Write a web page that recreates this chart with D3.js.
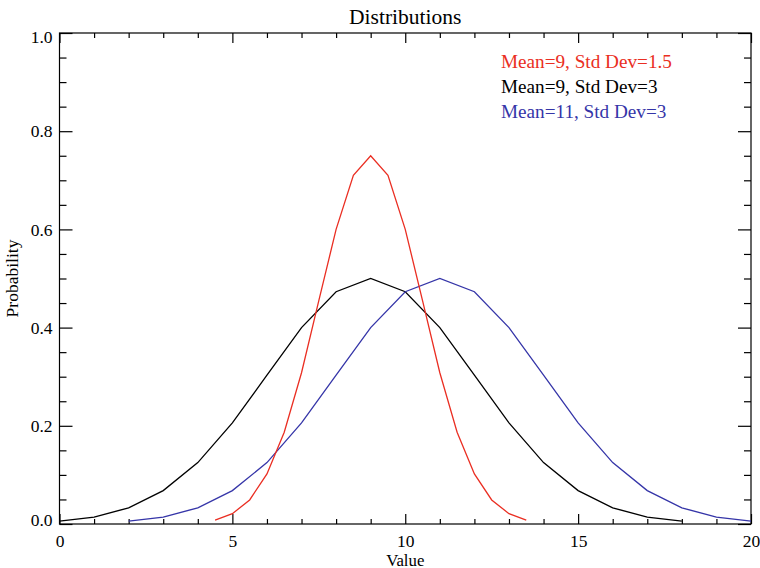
<!DOCTYPE html>
<html>
<head>
<meta charset="utf-8">
<script src="https://cdn.jsdelivr.net/npm/d3@7"></script>
<style>
  body { margin: 0; background: #fff; }
  text { font-family: "Liberation Serif", "Times New Roman", serif; }
</style>
</head>
<body>
<div id="chart"></div>
<script>
// data
const blackX = [0,1,2,3,4,5,6,7,8,9,10,11,12,13,14,15,16,17,18];
const blackY = [0.006,0.014,0.033,0.068,0.125,0.206,0.303,0.400,0.473,0.500,0.473,0.400,0.303,0.206,0.125,0.068,0.033,0.014,0.006];

const blueX = [2,3,4,5,6,7,8,9,10,11,12,13,14,15,16,17,18,19,20];
const blueY = [0.006,0.014,0.033,0.068,0.125,0.206,0.303,0.400,0.473,0.500,0.473,0.400,0.303,0.206,0.125,0.068,0.033,0.014,0.006];

const redX = [4.5,5,5.5,6,6.5,7,7.5,8,8.5,9,9.5,10,10.5,11,11.5,12,12.5,13,13.5];
const redY = [0.008,0.021,0.049,0.102,0.187,0.308,0.455,0.600,0.710,0.750,0.710,0.600,0.455,0.308,0.187,0.102,0.049,0.021,0.008];

const xTicks = [0, 5, 10, 15, 20];
const yTicks = [0.0, 0.2, 0.4, 0.6, 0.8, 1.0];

const legendLabels = ["Mean=9, Std Dev=1.5", "Mean=9, Std Dev=3", "Mean=11, Std Dev=3"];

// setup
const width = 760, height = 568;
const plotLeft = 59.5, plotRight = 751, plotTop = 33, plotBottom = 524;
const red = "#ea2e22", blue = "#3535a8", black = "#000";

const svg = d3.select("#chart").append("svg")
  .attr("width", width)
  .attr("height", height);

const x = d3.scaleLinear().domain([0, 20]).range([plotLeft, plotRight]);
const y = d3.scaleLinear().domain([0, 1]).range([plotBottom, plotTop]);

// axes on all four sides, ticks pointing inward
const minorX = d3.range(0, 21, 1).filter(v => v % 5 !== 0);
const minorY = d3.range(0, 1.001, 0.05).filter(v => Math.round(v * 100) % 20 !== 0);

const bottomAxis = d3.axisBottom(x).tickValues(xTicks).tickSize(-10).tickPadding(10.5)
  .tickFormat(d3.format("d"));
const bottomMinor = d3.axisBottom(x).tickValues(minorX).tickSize(-5).tickFormat("");
const topAxis = d3.axisTop(x).tickValues(xTicks).tickSize(-10).tickFormat("");
const topMinor = d3.axisTop(x).tickValues(minorX).tickSize(-5).tickFormat("");
const leftAxis = d3.axisLeft(y).tickValues(yTicks).tickSize(-13).tickPadding(7)
  .tickFormat(d3.format(".1f"));
const leftMinor = d3.axisLeft(y).tickValues(minorY).tickSize(-7).tickFormat("");
const rightAxis = d3.axisRight(y).tickValues(yTicks).tickSize(-13).tickFormat("");
const rightMinor = d3.axisRight(y).tickValues(minorY).tickSize(-7).tickFormat("");

function styleAxis(g) {
  g.select(".domain").remove();
  g.selectAll(".tick line").attr("stroke", "#000").attr("stroke-width", 1.2);
  g.selectAll(".tick text")
    .style("font-family", "Liberation Serif")
    .style("font-size", "17.5px")
    .attr("fill", "#000");
}

svg.append("g").attr("transform", `translate(0,${plotBottom})`).call(bottomAxis).call(styleAxis);
svg.append("g").attr("transform", `translate(0,${plotBottom})`).call(bottomMinor).call(styleAxis);
svg.append("g").attr("transform", `translate(0,${plotTop})`).call(topAxis).call(styleAxis);
svg.append("g").attr("transform", `translate(0,${plotTop})`).call(topMinor).call(styleAxis);
const yAxisG = svg.append("g").attr("transform", `translate(${plotLeft},0)`).call(leftAxis).call(styleAxis);
svg.append("g").attr("transform", `translate(${plotLeft},0)`).call(leftMinor).call(styleAxis);
svg.append("g").attr("transform", `translate(${plotRight},0)`).call(rightAxis).call(styleAxis);
svg.append("g").attr("transform", `translate(${plotRight},0)`).call(rightMinor).call(styleAxis);

// end labels sit a little inside the axis range
yAxisG.selectAll(".tick text")
  .attr("y", d => d === 0 ? -4 : (d === 1 ? 4 : 0));

svg.append("rect")
  .attr("x", plotLeft).attr("y", plotTop)
  .attr("width", plotRight - plotLeft).attr("height", plotBottom - plotTop)
  .attr("fill", "none").attr("stroke", "#000").attr("stroke-width", 1.2);

// labels
svg.append("text")
  .attr("x", (plotLeft + plotRight) / 2).attr("y", 24)
  .attr("text-anchor", "middle")
  .style("font-size", "21.5px")
  .text("Distributions");

svg.append("text")
  .attr("x", (plotLeft + plotRight) / 2).attr("y", 565.5)
  .attr("text-anchor", "middle")
  .style("font-size", "16.8px")
  .text("Value");

svg.append("text")
  .attr("transform", `translate(18,${(plotTop + plotBottom) / 2}) rotate(-90)`)
  .attr("text-anchor", "middle")
  .style("font-size", "17.5px")
  .text("Probability");

// lines
const line = d3.line()
  .x(d => x(d[0]))
  .y(d => y(d[1]));

const series = [
  {xs: blackX, ys: blackY, color: black},
  {xs: blueX, ys: blueY, color: blue},
  {xs: redX, ys: redY, color: red}
];

series.forEach(s => {
  svg.append("path")
    .datum(d3.zip(s.xs, s.ys))
    .attr("d", line)
    .attr("fill", "none")
    .attr("stroke", s.color)
    .attr("stroke-width", 1.3);
});

// legend
const legendColors = [red, black, blue];
svg.selectAll(".legend")
  .data(legendLabels)
  .enter().append("text")
  .attr("class", "legend")
  .attr("x", 501)
  .attr("y", (d, i) => 68 + i * 25)
  .attr("fill", (d, i) => legendColors[i])
  .style("font-size", "19.2px")
  .text(d => d);
</script>
</body>
</html>
